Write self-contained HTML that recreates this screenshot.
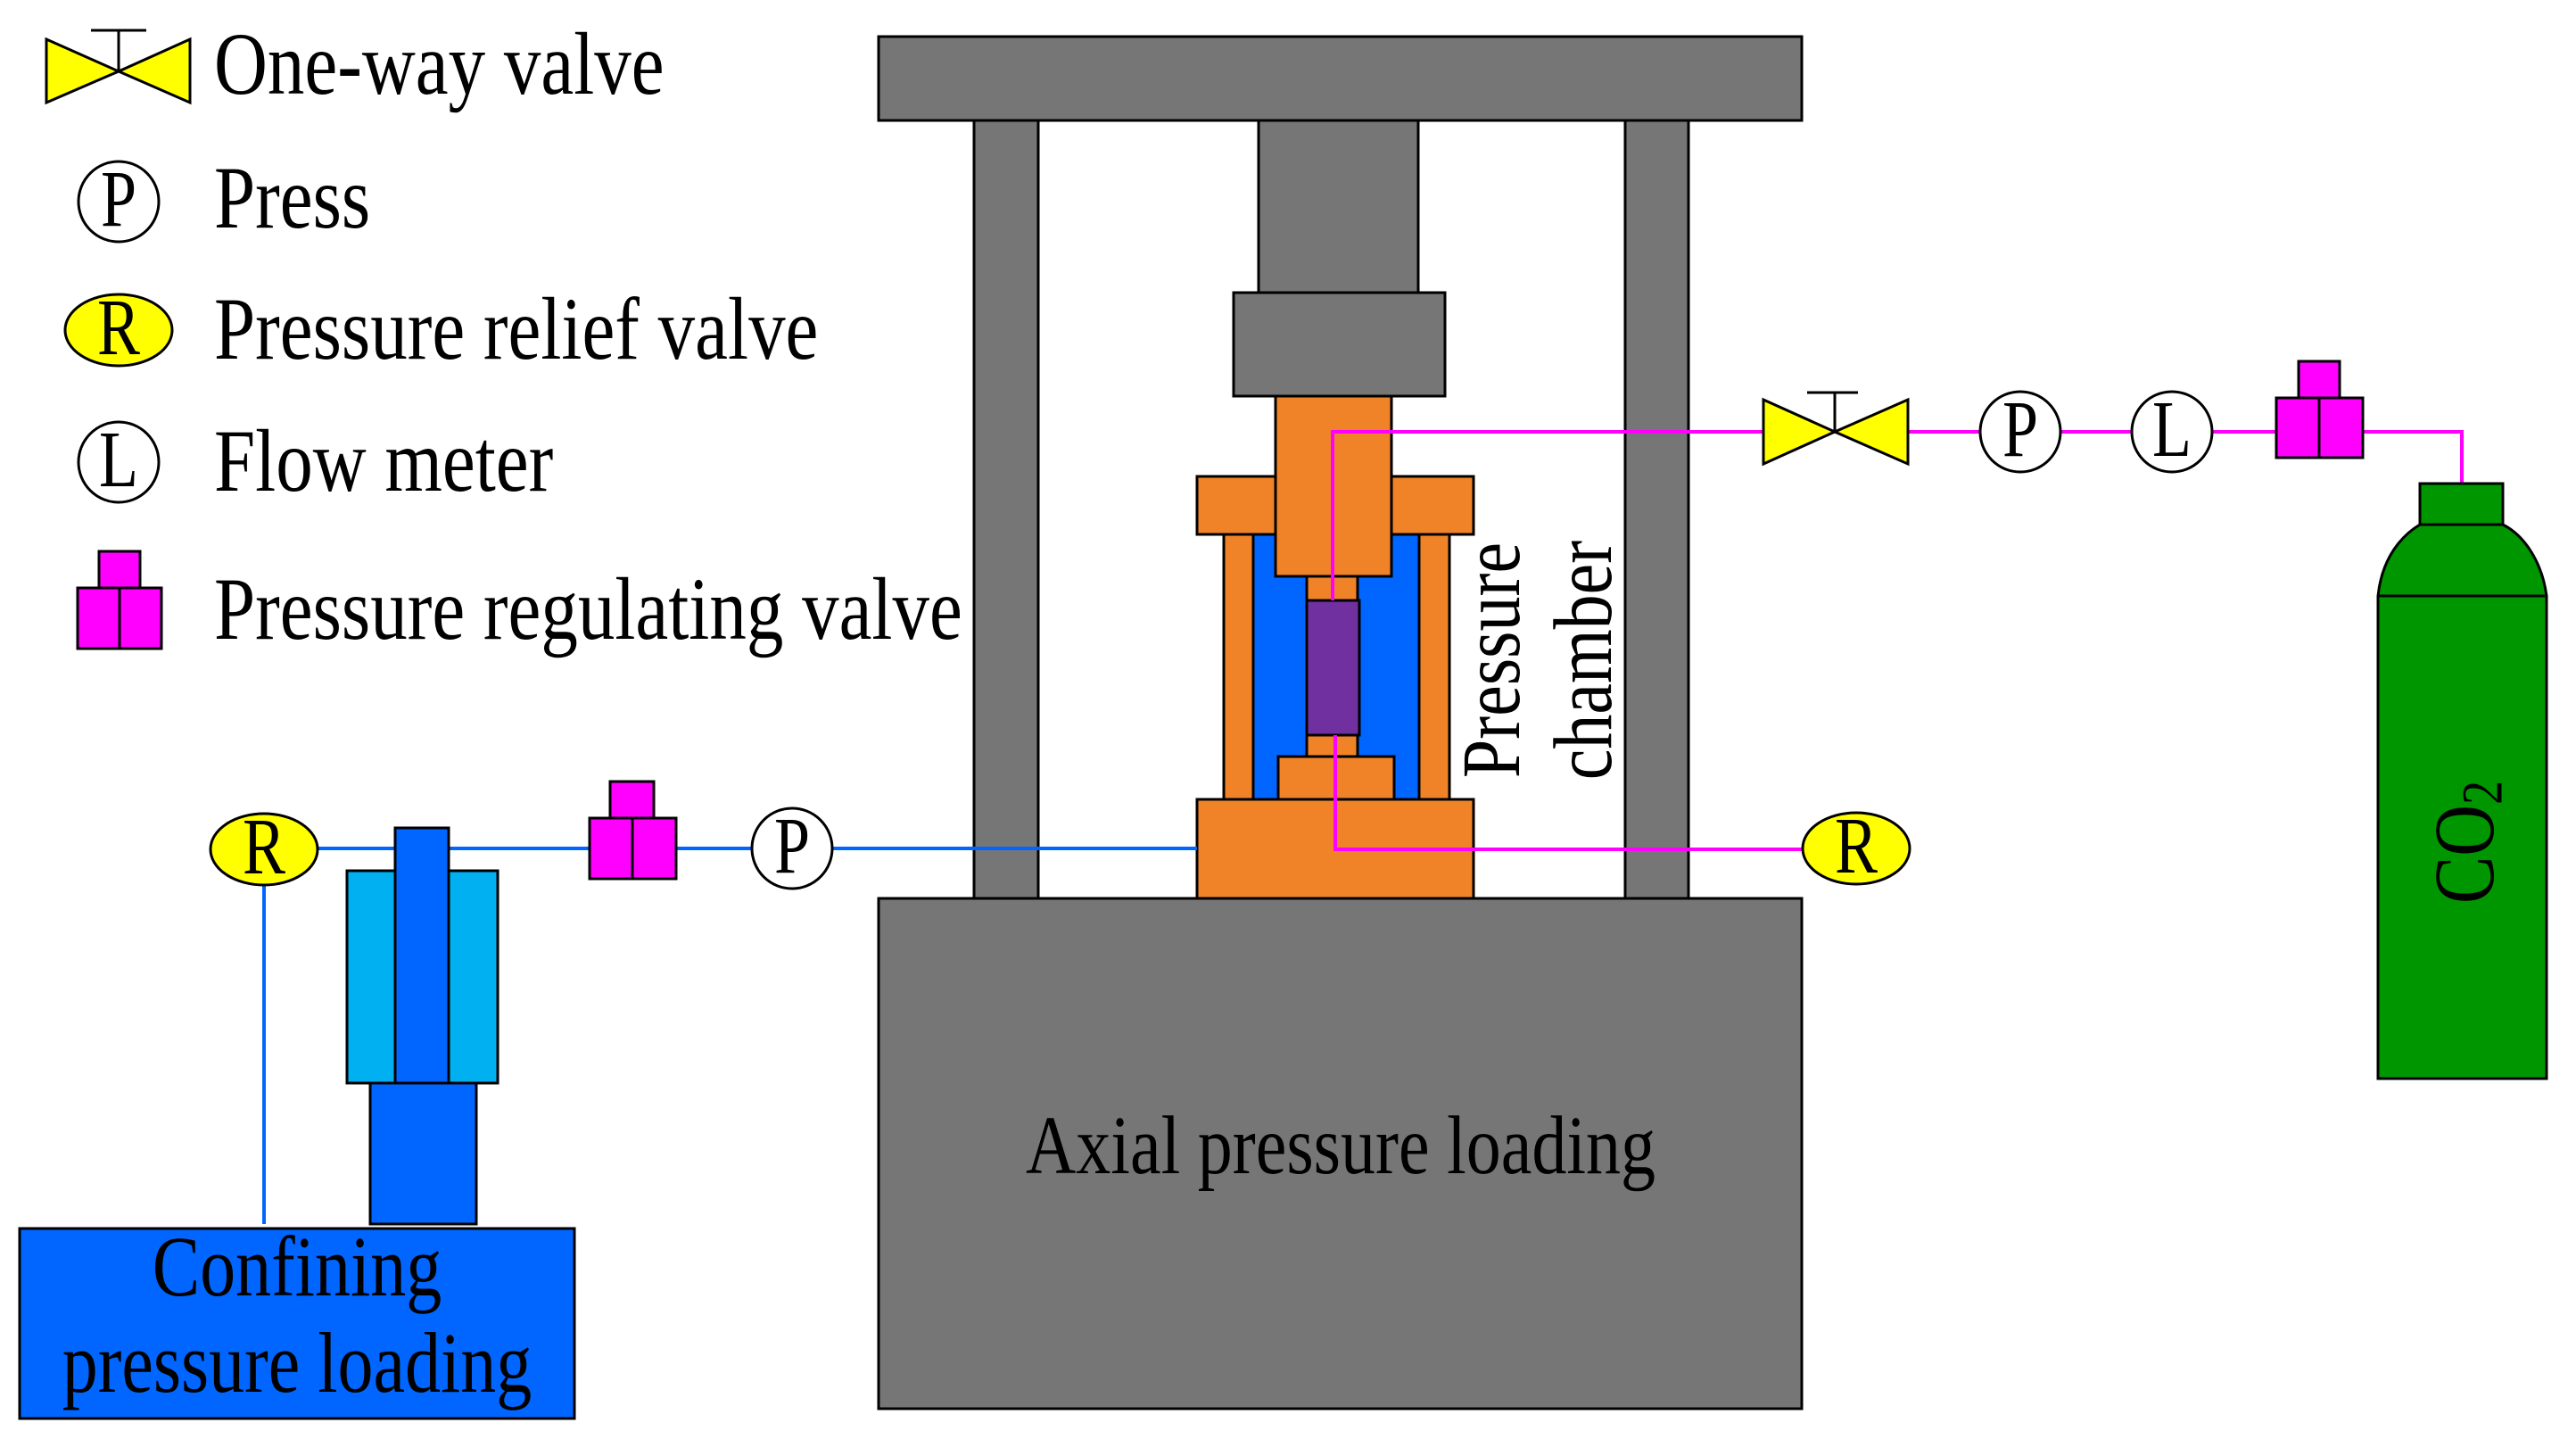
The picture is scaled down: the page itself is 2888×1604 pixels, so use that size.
<!DOCTYPE html>
<html><head><meta charset="utf-8"><style>
html,body{margin:0;padding:0;background:#fff;}
svg{display:block;}
text{font-family:"Liberation Serif",serif;fill:#000;}
</style></head><body>
<svg width="2888" height="1604" viewBox="0 0 2888 1604" xmlns="http://www.w3.org/2000/svg">
<!-- Legend -->
<g stroke="#000" stroke-width="3">
<polygon points="52,44 133,80 52,115" fill="#ff0"/>
<polygon points="213,44 133,80 213,115" fill="#ff0"/>
<line x1="133" y1="80" x2="133" y2="34"/><line x1="102" y1="34" x2="164" y2="34"/>
<ellipse cx="133" cy="226" rx="45" ry="45" fill="#fff"/>
<ellipse cx="133" cy="370" rx="60" ry="40" fill="#ff0"/>
<ellipse cx="133" cy="518" rx="45" ry="45" fill="#fff"/>
<rect x="111" y="618" width="46" height="41" fill="#f0f"/>
<rect x="87" y="659" width="94" height="68" fill="#f0f"/>
<line x1="134" y1="659" x2="134" y2="727"/>
</g>
<g font-size="83">
<text transform="translate(240,105) scale(1,1.2)">One-way valve</text>
<text transform="translate(240,255) scale(1,1.2)">Press</text>
<text transform="translate(240,402) scale(1,1.2)">Pressure relief valve</text>
<text transform="translate(240,550) scale(1,1.2)">Flow meter</text>
<text transform="translate(240,716) scale(1,1.2)">Pressure regulating valve</text>
</g>
<g font-size="72" text-anchor="middle">
<text transform="translate(133,253) scale(1,1.25)">P</text>
<text transform="translate(133,397) scale(1,1.25)">R</text>
<text transform="translate(133,545) scale(1,1.25)">L</text>
</g>

<!-- frame -->
<g stroke="#000" stroke-width="3" fill="#767676">
<rect x="985" y="41" width="1035" height="94"/>
<rect x="1092" y="135" width="72" height="872"/>
<rect x="1822" y="135" width="71" height="872"/>
<rect x="1411" y="135" width="179" height="193"/>
<rect x="1383" y="328" width="237" height="116"/>
<rect x="985" y="1007" width="1035" height="572"/>
</g>
<text transform="translate(1503,1315) scale(1,1.2)" font-size="78" text-anchor="middle">Axial pressure loading</text>

<!-- pressure chamber -->
<g stroke="#000" stroke-width="3">
<rect x="1405" y="599" width="186" height="297" fill="#0066ff"/>
<rect x="1372" y="599" width="33" height="297" fill="#f08328"/>
<rect x="1591" y="599" width="34" height="297" fill="#f08328"/>
<rect x="1342" y="534" width="310" height="65" fill="#f08328"/>
<rect x="1430" y="444" width="130" height="202" fill="#f08328"/>
<rect x="1465" y="646" width="57" height="27" fill="#f08328"/>
<rect x="1465" y="673" width="59" height="151" fill="#7030a0"/>
<rect x="1465" y="824" width="57" height="24" fill="#f08328"/>
<rect x="1433" y="848" width="130" height="48" fill="#f08328"/>
<rect x="1342" y="896" width="310" height="111" fill="#f08328"/>
</g>
<text transform="translate(1703,740) rotate(-90) scale(1,1.2)" font-size="78" text-anchor="middle">Pressure</text>
<text transform="translate(1806,740) rotate(-90) scale(1,1.2)" font-size="78" text-anchor="middle">chamber</text>

<!-- magenta lines -->
<g stroke="#f0f" stroke-width="4" fill="none">
<polyline points="1494,673 1494,484 2760,484 2760,542"/>
<polyline points="1497,824 1497,952 2021,952"/>
</g>
<!-- right components -->
<g stroke="#000" stroke-width="3">
<polygon points="1977,448 2057,484 1977,520" fill="#ff0"/>
<polygon points="2139,448 2057,484 2139,520" fill="#ff0"/>
<line x1="2057" y1="484" x2="2057" y2="440"/><line x1="2026" y1="440" x2="2083" y2="440"/>
<circle cx="2265" cy="484" r="45" fill="#fff"/>
<circle cx="2435" cy="484" r="45" fill="#fff"/>
<rect x="2577" y="405" width="46" height="41" fill="#f0f"/>
<rect x="2552" y="446" width="97" height="67" fill="#f0f"/>
<line x1="2600" y1="446" x2="2600" y2="513"/>
<ellipse cx="2081" cy="951" rx="60" ry="40" fill="#ff0"/>
<rect x="2713" y="542" width="93" height="46" fill="#009600"/>
<path d="M2666,668 C2672,610 2710,590 2713,588 L2806,588 C2830,600 2850,630 2855,668 L2855,1209 L2666,1209 Z" fill="#009600"/>
<line x1="2666" y1="668" x2="2855" y2="668"/>
</g>
<g font-size="72" text-anchor="middle">
<text transform="translate(2265,511) scale(1,1.25)">P</text>
<text transform="translate(2435,511) scale(1,1.25)">L</text>
<text transform="translate(2081,978) scale(1,1.25)">R</text>
</g>
<text transform="translate(2795,944) rotate(-90) scale(1,1.2)" font-size="80" text-anchor="middle">CO<tspan font-size="54" dy="8">2</tspan></text>

<!-- left blue system -->
<g stroke="#0066ff" stroke-width="4" fill="none">
<line x1="296" y1="951" x2="1342" y2="951"/>
<line x1="296" y1="990" x2="296" y2="1372"/>
</g>
<g stroke="#000" stroke-width="3">
<rect x="389" y="976" width="169" height="238" fill="#00b0f0"/>
<rect x="443" y="928" width="60" height="286" fill="#0066ff"/>
<rect x="415" y="1214" width="119" height="158" fill="#0066ff"/>
<rect x="22" y="1377" width="622" height="213" fill="#0066ff"/>
<ellipse cx="296" cy="952" rx="60" ry="40" fill="#ff0"/>
<rect x="684" y="876" width="49" height="41" fill="#f0f"/>
<rect x="661" y="917" width="97" height="68" fill="#f0f"/>
<line x1="709" y1="917" x2="709" y2="985"/>
<circle cx="888" cy="951" r="45" fill="#fff"/>
</g>
<g font-size="72" text-anchor="middle">
<text transform="translate(296,979) scale(1,1.25)">R</text>
<text transform="translate(888,978) scale(1,1.25)">P</text>
</g>
<g font-size="80" text-anchor="middle">
<text transform="translate(333,1452) scale(1,1.2)">Confining</text>
<text transform="translate(333,1560) scale(1,1.2)">pressure loading</text>
</g>
</svg>
</body></html>
